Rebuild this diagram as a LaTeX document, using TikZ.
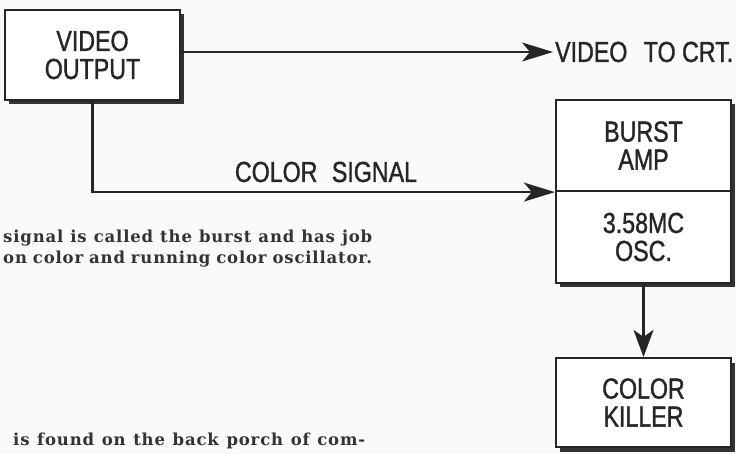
\documentclass[tikz,border=0pt]{standalone}
\usepackage{fontspec}
\setmainfont{Liberation Sans}
\newfontfamily\labfont[FakeStretch=0.8,FakeBold=1.2]{Liberation Sans}
\newfontfamily\bodyfont[LetterSpace=5]{DejaVu Serif}
\usetikzlibrary{arrows.meta,shadows}
\begin{document}
\begin{tikzpicture}[x=1pt,y=-1pt,
  ink/.style={draw=black!85, line width=2.2pt},
  blockbox/.style={ink, fill=white, minimum width=175pt, inner sep=0pt, align=center,
    font=\labfont\fontsize{29}{28}\selectfont, text=black!85,
    drop shadow={shadow xshift=4pt, shadow yshift=-4.5pt, fill=black!80, opacity=1}},
  wire/.style={ink, -{Stealth[length=31pt,width=19pt,inset=8pt]}},
  lab/.style={font=\labfont\fontsize{29}{28}\selectfont, text=black!85, inner sep=0pt},
  body/.style={font=\bodyfont\bfseries\fontsize{16.5}{21}\selectfont, text=black!80, inner sep=0pt, anchor=base west}]
\fill[gray!4] (0,0) rectangle (736,454);
\useasboundingbox (0,0) rectangle (736,454);

\node[blockbox, minimum height=90pt] (vo) at (92.5,55) {VIDEO\\OUTPUT};
\node[blockbox, minimum height=91pt] (ba) at (643.5,145.5) {BURST\\AMP};
\node[blockbox, minimum height=92pt] (osc) at (643.5,237) {3.58MC\\OSC.};
\node[blockbox, minimum height=89pt] (ck) at (643.5,402.5) {COLOR\\KILLER};

\node[lab, anchor=west] (crt) at (555,52) {VIDEO\hspace{10pt} TO CRT.};
\node[lab] (cs) at (326,172) {COLOR\hspace{8pt} SIGNAL};

\draw[wire, shorten >=2pt] (vo.east |- crt.west) -- (crt.west);
\draw[wire] (vo.south) |- (ba.south west);
\draw[wire, -{Stealth[length=27pt,width=20pt,inset=7pt]}] (osc.south) -- (ck.north);

\node[body] (t1) at (3,243) {\makebox[369pt][s]{signal is called the burst and has job}};
\node[body] (t2) at (3,264) {\makebox[369pt][s]{on color and running color oscillator.}};
\node[body] (t3) at (13,445) {\makebox[352pt][s]{is found on the back porch of com-}};
\end{tikzpicture}
\end{document}
